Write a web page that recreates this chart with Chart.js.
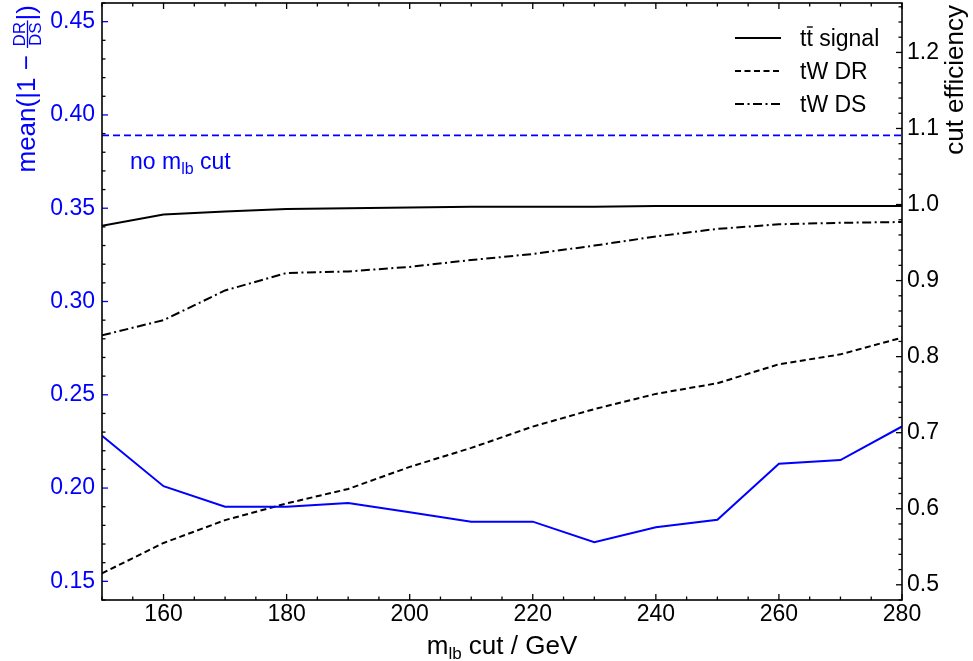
<!DOCTYPE html>
<html>
<head>
<meta charset="utf-8">
<script src="https://cdn.jsdelivr.net/npm/chart.js@4.4.1/dist/chart.umd.min.js"></script>
<style>
  html, body { margin: 0; padding: 0; background: #fff; }
  #wrap { width: 973px; height: 661px; position: relative; }
</style>
</head>
<body>
<div id="wrap"><canvas id="chart"></canvas></div>
<script>
// данные
const cuts = [150, 160, 170, 180, 190, 200, 210, 220, 230, 240, 250, 260, 270, 280];
const meanRelDiff = [0.228, 0.201, 0.190, 0.190, 0.192, 0.187, 0.182, 0.182, 0.171, 0.179, 0.183, 0.213, 0.215, 0.233];
const effTtbar = [0.972, 0.987, 0.991, 0.994, 0.995, 0.996, 0.997, 0.997, 0.997, 0.998, 0.998, 0.998, 0.998, 0.998];
const effTwDR = [0.515, 0.555, 0.585, 0.607, 0.626, 0.655, 0.680, 0.708, 0.731, 0.751, 0.765, 0.790, 0.803, 0.825];
const effTwDS = [0.828, 0.848, 0.887, 0.910, 0.912, 0.918, 0.927, 0.935, 0.946, 0.958, 0.968, 0.974, 0.976, 0.977];
const noCutValue = 0.389;
const xRange = [150, 280];
const leftRange = [0.14, 0.46];
const rightRange = [0.48, 1.265];

const BLUE = '#0000ff';
const FONT = '"Liberation Sans", Arial, Helvetica, sans-serif';

const pts = (ys) => cuts.map((x, i) => ({ x: x, y: ys[i] }));

// рисуем текст кусками (для индексов)
function runsWidth(ctx, runs) {
    let w = 0;
    runs.forEach(r => { ctx.font = r.size + 'px ' + FONT; w += ctx.measureText(r.text).width; });
    return w;
}
function drawRuns(ctx, runs, x, y) {
    runs.forEach(r => {
        ctx.font = r.size + 'px ' + FONT;
        ctx.fillText(r.text, x, y + (r.dy || 0));
        x += ctx.measureText(r.text).width;
    });
    return x;
}

// убираем лишние отступы под крайние подписи
const noPad = s => { s.paddingTop = 0; s.paddingBottom = 0; s.paddingLeft = 0; s.paddingRight = 0; };

const framePlugin = {
    id: 'frame',
    afterDatasetsDraw(chart) {
        const ctx = chart.ctx;
        const a = chart.chartArea;
        const sx = chart.scales.x, sy = chart.scales.y, sy2 = chart.scales.y2;
        ctx.save();
        ctx.lineCap = 'butt';

        // засечки внутрь
        ctx.lineWidth = 1.3;
        sx.ticks.forEach(t => {
            const px = sx.getPixelForValue(t.value);
            const len = (Math.round(t.value) % 20 === 0) ? 6 : 3.5;
            ctx.strokeStyle = '#000';
            ctx.beginPath();
            ctx.moveTo(px, a.bottom); ctx.lineTo(px, a.bottom - len);
            ctx.moveTo(px, a.top); ctx.lineTo(px, a.top + len);
            ctx.stroke();
        });
        sy.ticks.forEach(t => {
            const py = sy.getPixelForValue(t.value);
            const major = Math.round(t.value * 100) % 5 === 0;
            ctx.strokeStyle = major ? BLUE : '#000';
            ctx.beginPath();
            ctx.moveTo(a.left, py); ctx.lineTo(a.left + (major ? 6 : 3.5), py);
            ctx.stroke();
        });
        sy2.ticks.forEach(t => {
            const py = sy2.getPixelForValue(t.value);
            const major = Math.round(t.value * 100) % 10 === 0;
            ctx.strokeStyle = '#000';
            ctx.beginPath();
            ctx.moveTo(a.right, py); ctx.lineTo(a.right - (major ? 6 : 3.5), py);
            ctx.stroke();
        });

        // рамка
        ctx.strokeStyle = '#000';
        ctx.lineWidth = 1.6;
        ctx.strokeRect(a.left, a.top, a.right - a.left, a.bottom - a.top);

        ctx.textBaseline = 'alphabetic';
        ctx.textAlign = 'left';

        // подпись оси X
        ctx.fillStyle = '#000';
        const xRuns = [{ text: 'm', size: 26 }, { text: 'lb', size: 17, dy: 5 }, { text: ' cut / GeV', size: 26 }];
        const xw = runsWidth(ctx, xRuns);
        drawRuns(ctx, xRuns, (a.left + a.right) / 2 - xw / 2, 654);

        // правая ось
        ctx.save();
        ctx.translate(963, a.top + 2);
        ctx.rotate(-Math.PI / 2);
        const rRuns = [{ text: 'cut efficiency', size: 26 }];
        drawRuns(ctx, rRuns, -runsWidth(ctx, rRuns), 0);
        ctx.restore();

        // левая ось: mean(|1 - DR/DS|)
        ctx.save();
        ctx.fillStyle = BLUE;
        ctx.strokeStyle = BLUE;
        ctx.translate(35, a.top + 2);
        ctx.rotate(-Math.PI / 2);
        const pre = [{ text: 'mean(|1 \u2212 ', size: 26 }];
        const post = [{ text: '|)', size: 26 }];
        ctx.font = '17px ' + FONT;
        const wNum = ctx.measureText('DR').width, wDen = ctx.measureText('DS').width;
        const fw = Math.max(wNum, wDen) + 3;
        const total = runsWidth(ctx, pre) + fw + runsWidth(ctx, post);
        let cx = drawRuns(ctx, pre, -total, 0);
        ctx.font = '17px ' + FONT;
        ctx.fillText('DR', cx + (fw - wNum) / 2, -10);
        ctx.fillText('DS', cx + (fw - wDen) / 2, 6);
        ctx.lineWidth = 1.3;
        ctx.beginPath(); ctx.moveTo(cx, -7.5); ctx.lineTo(cx + fw, -7.5); ctx.stroke();
        drawRuns(ctx, post, cx + fw, 0);
        ctx.restore();

        // "no m_lb cut"
        ctx.fillStyle = BLUE;
        drawRuns(ctx, [{ text: 'no m', size: 23 }, { text: 'lb', size: 16, dy: 5 }, { text: ' cut', size: 23 }], 130, 169);

        // легенда
        const rows = [
            { y: 38, dash: [], label: 'signal', tt: true },
            { y: 71, dash: [6, 3.5], label: 'tW DR' },
            { y: 104, dash: [9, 3.5, 2, 3.5], label: 'tW DS' }
        ];
        ctx.fillStyle = '#000';
        ctx.strokeStyle = '#000';
        rows.forEach(r => {
            ctx.lineWidth = 1.8;
            ctx.setLineDash(r.dash);
            ctx.beginPath(); ctx.moveTo(735, r.y); ctx.lineTo(781, r.y); ctx.stroke();
            ctx.setLineDash([]);
            ctx.font = '23px ' + FONT;
            const base = r.y + 8;
            if (r.tt) {
                const tw = ctx.measureText('t').width;
                ctx.fillText('tt', 800, base);
                ctx.lineWidth = 1.4;
                ctx.beginPath(); ctx.moveTo(800 + tw + 0.5, base - 19); ctx.lineTo(800 + 2 * tw, base - 19); ctx.stroke();
                ctx.fillText(' ' + r.label, 800 + 2 * tw, base);
            } else {
                ctx.fillText(r.label, 800, base);
            }
        });
        ctx.restore();
    }
};

new Chart(document.getElementById('chart'), {
    type: 'line',
    data: {
        datasets: [
            { label: 'no cut', data: [{ x: xRange[0], y: noCutValue }, { x: xRange[1], y: noCutValue }], yAxisID: 'y', borderColor: BLUE, borderWidth: 1.8, borderDash: [7, 4] },
            { label: 'mean', data: pts(meanRelDiff), yAxisID: 'y', borderColor: BLUE, borderWidth: 2 },
            { label: 'tt signal', data: pts(effTtbar), yAxisID: 'y2', borderColor: '#000', borderWidth: 2 },
            { label: 'tW DR', data: pts(effTwDR), yAxisID: 'y2', borderColor: '#000', borderWidth: 2, borderDash: [6, 3.5] },
            { label: 'tW DS', data: pts(effTwDS), yAxisID: 'y2', borderColor: '#000', borderWidth: 2, borderDash: [9, 3.5, 2, 3.5] }
        ]
    },
    options: {
        responsive: true,
        maintainAspectRatio: false,
        animation: false,
        parsing: false,
        layout: { padding: { top: 3, left: 0, right: 0, bottom: 0 } },
        elements: { point: { radius: 0 }, line: { tension: 0, fill: false } },
        plugins: { legend: { display: false }, tooltip: { enabled: false } },
        scales: {
            x: {
                type: 'linear', position: 'bottom', min: xRange[0], max: xRange[1],
                grid: { display: false, drawTicks: false }, border: { display: false },
                ticks: {
                    stepSize: 5, autoSkip: false, maxRotation: 0, padding: 1, color: '#000',
                    font: { family: FONT, size: 23 },
                    callback: v => (Math.round(v) % 20 === 0 ? String(v) : '')
                },
                afterFit: s => { s.height = 61; noPad(s); }
            },
            y: {
                type: 'linear', position: 'left', min: leftRange[0], max: leftRange[1],
                grid: { display: false, drawTicks: false }, border: { display: false },
                ticks: {
                    stepSize: 0.01, includeBounds: false, autoSkip: false, padding: 7, color: BLUE,
                    font: { family: FONT, size: 23 },
                    callback: v => (Math.round(v * 100) % 5 === 0 ? v.toFixed(2) : '')
                },
                afterFit: s => { s.width = 102; noPad(s); }
            },
            y2: {
                type: 'linear', position: 'right', min: rightRange[0], max: rightRange[1],
                grid: { display: false, drawTicks: false }, border: { display: false },
                ticks: {
                    stepSize: 0.02, includeBounds: false, autoSkip: false, padding: 5, color: '#000',
                    font: { family: FONT, size: 23 },
                    callback: v => (Math.round(v * 100) % 10 === 0 ? v.toFixed(1) : '')
                },
                afterFit: s => { s.width = 71; noPad(s); }
            }
        }
    },
    plugins: [framePlugin]
});
</script>
</body>
</html>
